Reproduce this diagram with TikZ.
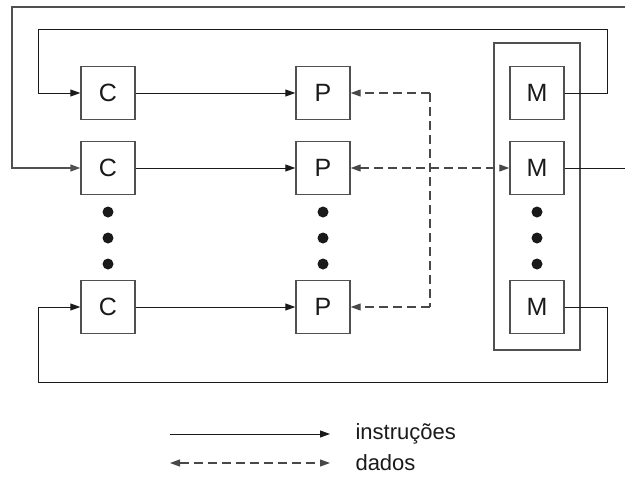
\documentclass[tikz,border=0pt]{standalone}
\usepackage{fontspec}
\setmainfont{Liberation Sans}
\usetikzlibrary{arrows.meta}
\definecolor{boxline}{HTML}{505050}
\definecolor{wire}{HTML}{1a1a1a}
\begin{document}
\begin{tikzpicture}[x=1pt,y=-1pt,
  unit/.style={draw=boxline,line width=1.4pt,minimum width=54pt,minimum height=53pt,
    inner sep=0pt,font=\fontsize{25}{28}\selectfont,text=wire},
  arrowtip/.tip={Triangle[length=10pt,width=7pt]},
  instr/.style={draw=wire,line width=1pt,-arrowtip},
  datum/.style={draw=wire!80,line width=1.1pt,dash pattern=on 9pt off 5pt},
  dot/.style={circle,fill=wire,inner sep=0pt,minimum size=11pt},
  legendtext/.style={anchor=west,font=\fontsize{22}{25}\selectfont,text=wire}]
\useasboundingbox (0,0) rectangle (625,482);

% memory module enclosure
\draw[boxline,line width=1.4pt] (494,43) rectangle (580,350);

% control, processing and memory units
\node[unit] (c1) at (108,93) {C};
\node[unit] (c2) at (108,168) {C};
\node[unit] (c3) at (108,307) {C};
\node[unit] (p1) at (323,93) {P};
\node[unit] (p2) at (323,168) {P};
\node[unit] (p3) at (323,307) {P};
\node[unit] (m1) at (537,93) {M};
\node[unit] (m2) at (537,168) {M};
\node[unit] (m3) at (537,307) {M};

% ellipsis dots in each column
\foreach \x/\n in {108/c,323/p,537/m}{
  \node[dot] (\n d1) at (\x,212) {};
  \node[dot] (\n d2) at (\x,238) {};
  \node[dot] (\n d3) at (\x,264) {};
}

% instruction flow C -> P
\draw[instr] (c1) -- (p1);
\draw[instr] (c2) -- (p2);
\draw[instr] (c3) -- (p3);

% instruction feedback from memory to control
\coordinate (topin) at (625,7);
\coordinate (midout) at (625,168);
\draw[instr,line width=1.4pt,draw=boxline] (topin) -- (12,7) -- (12,168) -- (c2.west);
\draw[draw=wire,line width=1pt] (m2.east) -- (midout);
\draw[instr] (m1.east) -- (607,93) -- (607,29) -- (38,29) -- (38,93) -- (c1.west);
\draw[instr] (m3.east) -- (607,307) -- (607,382) -- (38,382) -- (38,307) -- (c3.west);

% data paths
\coordinate (bus1) at (430,93);
\coordinate (bus3) at (430,307);
\draw[datum] (bus1) -- (bus3);
\draw[datum,-arrowtip] (bus1) -- (p1.east);
\draw[datum,-arrowtip] (bus3) -- (p3.east);
\draw[datum,arrowtip-arrowtip] (p2.east) -- (m2.west);

% legend
\coordinate (la) at (170,434);
\coordinate (lb) at (330,434);
\coordinate (lc) at (170,463);
\coordinate (ld) at (330,463);
\draw[instr] (la) -- (lb);
\draw[datum,arrowtip-arrowtip] (lc) -- (ld);
\node[legendtext] (lt1) at (352,434) {instruções};
\node[legendtext] (lt2) at (352,463) {dados};
\end{tikzpicture}
\end{document}
